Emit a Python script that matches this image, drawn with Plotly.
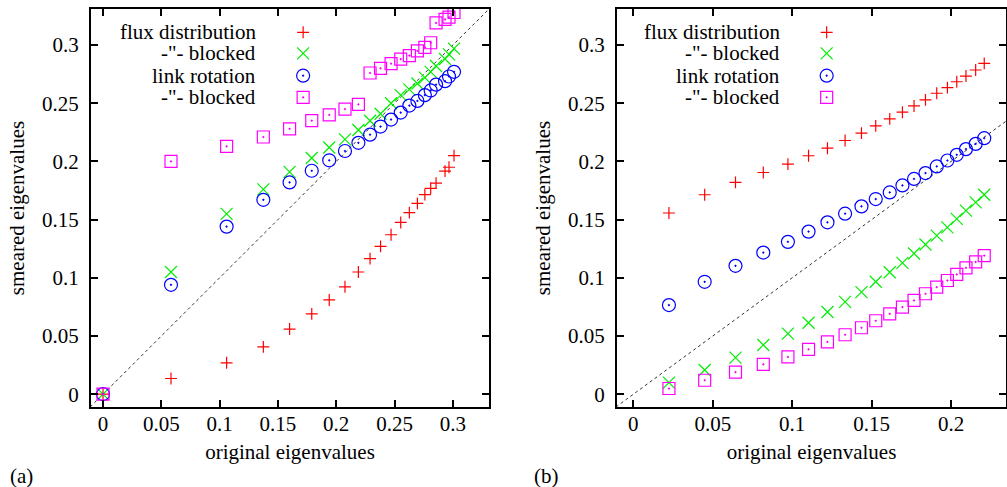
import plotly.graph_objects as go

# ---------------- data ----------------
series_names = ["flux distribution", '-"- blocked', "link rotation", '-"- blocked']

# panel (a)
orig_a = [0, 0.0583, 0.106, 0.1375, 0.160, 0.179, 0.194, 0.2075, 0.219, 0.229, 0.238,
          0.247, 0.2553, 0.2627, 0.2696, 0.276, 0.281, 0.2856, 0.2933, 0.2967, 0.301]
flux_a = [0, 0.0135, 0.027, 0.0407, 0.056, 0.069, 0.081, 0.0923, 0.105, 0.1165, 0.127,
          0.137, 0.1476, 0.156, 0.164, 0.1715, 0.1769, 0.1814, 0.1917, 0.195, 0.205]
flux_blocked_a = [0, 0.105, 0.155, 0.176, 0.191, 0.203, 0.212, 0.219, 0.227, 0.235, 0.241,
                  0.250, 0.257, 0.262, 0.267, 0.272, 0.277, 0.282, 0.288, 0.292, 0.297]
link_a = [0, 0.094, 0.144, 0.167, 0.182, 0.192, 0.201, 0.209, 0.216, 0.223, 0.230,
          0.236, 0.242, 0.248, 0.252, 0.257, 0.261, 0.266, 0.269, 0.273, 0.277]
link_blocked_a = [0, 0.200, 0.213, 0.221, 0.228, 0.235, 0.240, 0.245, 0.249, 0.276, 0.280,
                  0.284, 0.288, 0.291, 0.295, 0.298, 0.302, 0.319, 0.322, 0.324, 0.328]

# panel (b)
orig_b = [0.0224, 0.0449, 0.0643, 0.0818, 0.0973, 0.1103, 0.1222, 0.1333, 0.1436, 0.1526,
          0.1614, 0.1694, 0.1767, 0.1839, 0.1910, 0.1977, 0.2036, 0.2094, 0.2155, 0.2209]
flux_b = [0.1557, 0.1714, 0.1820, 0.1905, 0.1977, 0.2049, 0.2114, 0.2180, 0.2243, 0.2306,
          0.2366, 0.2423, 0.2477, 0.2529, 0.2586, 0.2634, 0.2685, 0.2734, 0.2786, 0.2843]
flux_blocked_b = [0.0100, 0.0208, 0.0314, 0.0423, 0.0520, 0.0614, 0.0706, 0.0794, 0.0877, 0.0966,
                  0.1048, 0.1129, 0.1209, 0.1286, 0.1363, 0.1434, 0.1506, 0.1577, 0.1648, 0.1714]
link_b = [0.0766, 0.0966, 0.1103, 0.1217, 0.1309, 0.1397, 0.1477, 0.1551, 0.1614, 0.1677,
          0.1734, 0.1794, 0.1850, 0.1900, 0.1957, 0.2008, 0.2057, 0.2106, 0.2151, 0.2200]
link_blocked_b = [0.0049, 0.0120, 0.0189, 0.0257, 0.0320, 0.0386, 0.0449, 0.0511, 0.0571, 0.0631,
                  0.0691, 0.0749, 0.0806, 0.0863, 0.0920, 0.0977, 0.1029, 0.1086, 0.1137, 0.1191]

ticks_a = [0, 0.05, 0.1, 0.15, 0.2, 0.25, 0.3]
ticks_b = [0, 0.05, 0.1, 0.15, 0.2]
ticks_y = [0, 0.05, 0.1, 0.15, 0.2, 0.25, 0.3]
range_xa = [-0.0103, 0.331]
range_xb = [-0.0103, 0.2346]
range_y = [-0.011, 0.331]

# ---------------- styles ----------------
FONT = "Liberation Serif"
FS = 21
TXT = dict(family=FONT, size=FS, color="black")
styles = [
    dict(symbol="cross-thin-open", size=8.5, color="#ff0000"),
    dict(symbol="x-thin-open", size=12, color="#00ee00"),
    dict(symbol="circle-open-dot", size=13, color="#0000ff"),
    dict(symbol="square-open-dot", size=12, color="#ff00ff"),
]

fig = go.Figure()

panels = [
    ("x", "y", orig_a, [flux_a, flux_blocked_a, link_a, link_blocked_a], range_xa),
    ("x2", "y2", orig_b, [flux_b, flux_blocked_b, link_b, link_blocked_b], range_xb),
]

for xa, ya, xs, ys_list, rx in panels:
    # diagonal y = x
    lo = min(rx[0], range_y[0])
    hi = max(rx[1], range_y[1])
    fig.add_trace(go.Scatter(x=[lo, hi], y=[lo, hi], mode="lines", xaxis=xa, yaxis=ya,
                             line=dict(color="#333333", width=1, dash="dot"),
                             showlegend=False, hoverinfo="skip"))
    for ys, st, nm in zip(ys_list, styles, series_names):
        fig.add_trace(go.Scatter(
            x=xs, y=ys, mode="markers", name=nm, xaxis=xa, yaxis=ya, showlegend=False,
            marker=dict(symbol=st["symbol"], size=st["size"], color=st["color"],
                        line=dict(color=st["color"], width=1.2))))

# manual legends (text left, symbol right) on overlay axes
legend_rows = [0.9415, 0.8887, 0.8324, 0.7781]
legend_cfg = [("x3", "y3", 0.419, 0.533), ("x4", "y4", 0.4234, 0.539)]
for xa, ya, tx, sx in legend_cfg:
    for row, st, nm in zip(legend_rows, styles, series_names):
        fig.add_trace(go.Scatter(
            x=[sx], y=[row], mode="markers", xaxis=xa, yaxis=ya, showlegend=False,
            hoverinfo="skip",
            marker=dict(symbol=st["symbol"], size=st["size"], color=st["color"],
                        line=dict(color=st["color"], width=1.2))))
        fig.add_annotation(x=tx, y=row, xref=xa, yref=ya, text=nm, showarrow=False,
                           xanchor="right", yanchor="middle", font=TXT)

L, R, T, B = 91, 1, 9, 80
W, H = 1007, 487
pw = W - L - R
ph = H - T - B
dom_a = [0, (489 - L) / pw]
dom_b = [(617 - L) / pw, 1]

axis_common = dict(showline=True, linecolor="black", linewidth=2, mirror="allticks",
                   ticks="inside", ticklen=7, tickwidth=1.5, tickcolor="black",
                   showgrid=False, zeroline=False, automargin=False, tickfont=TXT)

fig.update_layout(
    width=W, height=H,
    margin=dict(l=L, r=R, t=T, b=B),
    paper_bgcolor="white", plot_bgcolor="white",
    font=TXT,
    xaxis=dict(domain=dom_a, range=range_xa, tickvals=ticks_a, anchor="y", ticklabelstandoff=-3,
               title=dict(text="original eigenvalues", standoff=9, font=TXT), **axis_common),
    yaxis=dict(domain=[0, 1], range=range_y, tickvals=ticks_y, anchor="x", ticklabelstandoff=6,
               title=dict(text="smeared eigenvalues", standoff=12, font=TXT), **axis_common),
    xaxis2=dict(domain=dom_b, range=range_xb, tickvals=ticks_b, anchor="y2", ticklabelstandoff=-3,
                title=dict(text="original eigenvalues", standoff=9, font=TXT), **axis_common),
    yaxis2=dict(domain=[0, 1], range=range_y, tickvals=ticks_y, anchor="x2", ticklabelstandoff=6,
                title=dict(text="smeared eigenvalues", standoff=12, font=TXT), **axis_common),
    xaxis3=dict(domain=dom_a, range=[0, 1], visible=False, anchor="y3", overlaying="x"),
    yaxis3=dict(domain=[0, 1], range=[0, 1], visible=False, anchor="x3", overlaying="y"),
    xaxis4=dict(domain=dom_b, range=[0, 1], visible=False, anchor="y4", overlaying="x2"),
    yaxis4=dict(domain=[0, 1], range=[0, 1], visible=False, anchor="x4", overlaying="y2"),
    showlegend=False,
)

# panel labels
fig.add_annotation(text="(a)", x=(8 - L) / pw, y=-(476 - T - ph) / ph,
                   xref="paper", yref="paper", showarrow=False, xanchor="left", yanchor="middle",
                   font=TXT)
fig.add_annotation(text="(b)", x=(532 - L) / pw, y=-(476 - T - ph) / ph,
                   xref="paper", yref="paper", showarrow=False, xanchor="left", yanchor="middle",
                   font=TXT)

fig.write_html("out.html")
